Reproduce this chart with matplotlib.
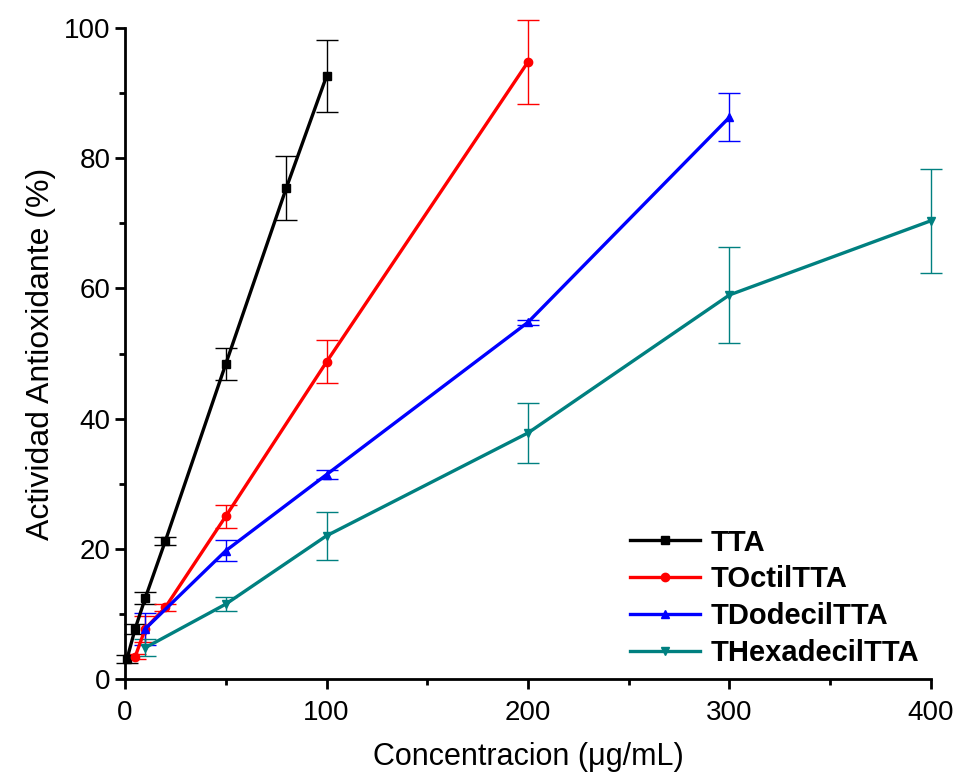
import matplotlib.pyplot as plt
from matplotlib.lines import Line2D

plt.rcParams['font.family'] = ['Liberation Sans', 'DejaVu Sans']

# TTA
x_tta = [1, 5, 10, 20, 50, 80, 100]
y_tta = [3.1, 7.7, 12.4, 21.2, 48.4, 75.4, 92.6]
e_tta = [0.6, 0.8, 0.9, 0.6, 2.4, 4.9, 5.5]

# TOctilTTA
x_oct = [5, 10, 20, 50, 100, 200]
y_oct = [3.4, 7.7, 11.0, 25.0, 48.7, 94.8]
e_oct = [0.4, 2.0, 0.5, 1.8, 3.3, 6.5]

# TDodecilTTA
x_dod = [10, 50, 100, 200, 300]
y_dod = [7.7, 19.7, 31.4, 54.8, 86.3]
e_dod = [2.5, 1.6, 0.7, 0.4, 3.7]

# THexadecilTTA
x_hex = [10, 50, 100, 200, 300, 400]
y_hex = [4.8, 11.5, 22.0, 37.8, 59.0, 70.4]
e_hex = [1.3, 1.1, 3.7, 4.6, 7.4, 8.0]

series = [
    ('TTA', x_tta, y_tta, e_tta, 'black', 's'),
    ('TOctilTTA', x_oct, y_oct, e_oct, 'red', 'o'),
    ('TDodecilTTA', x_dod, y_dod, e_dod, 'blue', '^'),
    ('THexadecilTTA', x_hex, y_hex, e_hex, '#008080', 'v'),
]


def main():
    fig = plt.figure(figsize=(9.56, 7.79), dpi=100)
    ax = fig.add_axes([0.1308, 0.1284, 0.843, 0.8356])

    handles = []
    for name, x, y, e, c, m in series:
        ax.errorbar(x, y, yerr=e, color=c, marker=m, markersize=6,
                     linewidth=2.4, elinewidth=1, capsize=8, capthick=1,
                     clip_on=False)
        handles.append(Line2D([], [], color=c, marker=m, markersize=6,
                              linewidth=2.4, label=name))

    ax.set_xlim(0, 400)
    ax.set_ylim(0, 100)
    ax.set_xticks([0, 100, 200, 300, 400])
    ax.set_xticks([50, 150, 250, 350], minor=True)
    ax.set_yticks([0, 20, 40, 60, 80, 100])
    ax.set_yticks([10, 30, 50, 70, 90], minor=True)
    ax.spines['top'].set_visible(False)
    ax.spines['right'].set_visible(False)
    ax.spines['left'].set_linewidth(2)
    ax.spines['bottom'].set_linewidth(2)
    ax.tick_params(which='major', direction='out', length=7, width=2,
                   labelsize=20)
    ax.tick_params(which='minor', direction='out', length=4, width=2)
    ax.tick_params(axis='x', which='major', pad=8)

    ax.set_xlabel('Concentracion (\u03bcg/mL)', fontsize=22, labelpad=12)
    ax.set_ylabel('Actividad Antioxidante (%)', fontsize=23, labelpad=6)

    ax.legend(handles=handles, loc='upper left', bbox_to_anchor=(0.627, 0.231),
              frameon=False, prop={'weight': 'bold', 'size': 21},
              handlelength=2.4, labelspacing=0.3, handletextpad=0.35,
              borderpad=0, borderaxespad=0)

    fig.savefig('out.png', dpi=100)


if __name__ == '__main__':
    main()
